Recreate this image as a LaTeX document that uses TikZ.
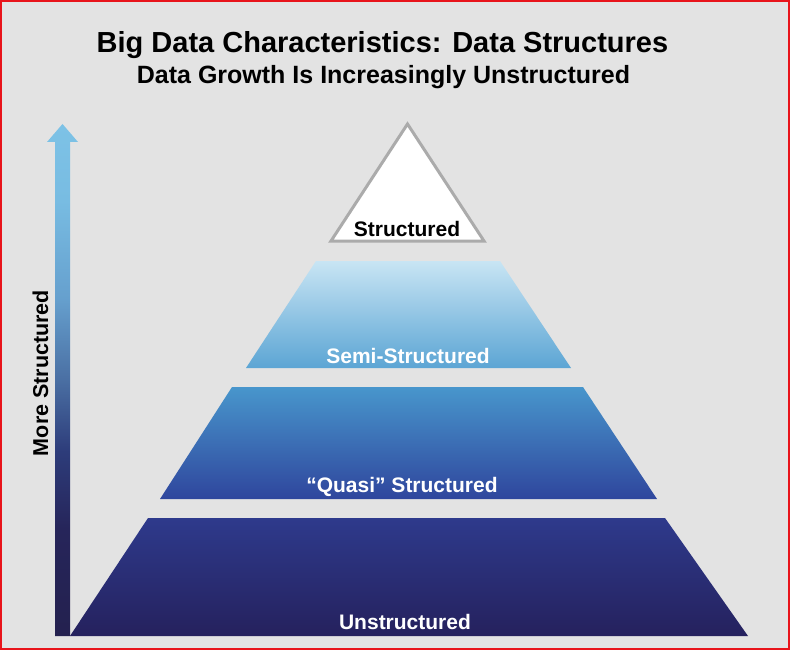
\documentclass[tikz,border=0pt]{standalone}
\usepackage{fontspec}
\setmainfont{Liberation Sans}
\newfontfamily\titlefont{Liberation Sans}
\newfontfamily\labelfont{Liberation Sans}
\definecolor{bg}{HTML}{E3E3E3}
\definecolor{frame}{HTML}{E8141B}
\definecolor{tristroke}{HTML}{ABABAB}
\definecolor{semitop}{HTML}{C8E5F4}
\definecolor{semibot}{HTML}{5CA5D4}
\definecolor{quasitop}{HTML}{4896CC}
\definecolor{quasibot}{HTML}{2F469D}
\definecolor{unstop}{HTML}{2E3A8C}
\definecolor{unsbot}{HTML}{25215D}
\definecolor{ac0}{HTML}{24214F}
\definecolor{ac1}{HTML}{26255A}
\definecolor{ac2}{HTML}{2D3C7A}
\definecolor{ac3}{HTML}{4A6FA3}
\definecolor{ac4}{HTML}{66A0CE}
\definecolor{ac5}{HTML}{78BCE2}
\definecolor{ac6}{HTML}{7DC2E6}
\pgfdeclareverticalshading{arrowsh}{100bp}{color(0bp)=(ac0); color(25bp)=(ac0); color(35.5bp)=(ac1); color(43bp)=(ac2); color(50bp)=(ac3); color(58bp)=(ac4); color(67.5bp)=(ac5); color(75bp)=(ac6); color(100bp)=(ac6)}
\tikzset{
  titletext/.style={anchor=base, inner sep=0pt, font=\titlefont\bfseries\fontsize{29}{32}\selectfont},
  subtext/.style={anchor=base, inner sep=0pt, font=\titlefont\bfseries\fontsize{25}{28}\selectfont},
  layerlabel/.style={anchor=base, inner sep=0pt, text=white, font=\labelfont\bfseries\fontsize{21}{24}\selectfont},
}
\begin{document}
\begin{tikzpicture}[x=1pt, y=-1pt]
\useasboundingbox (0,0) rectangle (790,650);
\fill[bg] (0,0) rectangle (790,650);
\draw[frame, line width=2pt] (1,1) rectangle (789,649);
% titles
\node[titletext] (title) at (382.5,53) {Big Data Characteristics: Data Structures};
\node[subtext] (subtitle) at (383.5,84) {Data Growth Is Increasingly Unstructured};
% arrow
\shade[shading=arrowsh] (55,636) -- (55,142) -- (47,142) -- (62.5,124) -- (78,142) -- (70,142) -- (70,636) -- cycle;
\node[rotate=90, anchor=base, inner sep=0pt, font=\labelfont\bfseries\fontsize{21.5}{24}\selectfont] (more) at (48,373) {More Structured};
% layers
\shade[top color=unstop, bottom color=unsbot] (148,518) -- (665,518) -- (748,636) -- (70,636) -- cycle;
\shade[top color=quasitop, bottom color=quasibot] (232,387) -- (583,387) -- (657,499) -- (160,499) -- cycle;
\shade[top color=semitop, bottom color=semibot] (316,261) -- (500,261) -- (571,368) -- (246,368) -- cycle;
\filldraw[fill=white, draw=tristroke, line width=3pt, line join=miter] (407.5,124) -- (484,241) -- (331,241) -- cycle;
% labels
\node[layerlabel, text=black] (structured) at (407,236) {Structured};
\node[layerlabel] (semi) at (408,363) {Semi-Structured};
\node[layerlabel] (quasi) at (402,492) {“Quasi” Structured};
\node[layerlabel] (unstructured) at (405,629) {Unstructured};
\end{tikzpicture}
\end{document}
